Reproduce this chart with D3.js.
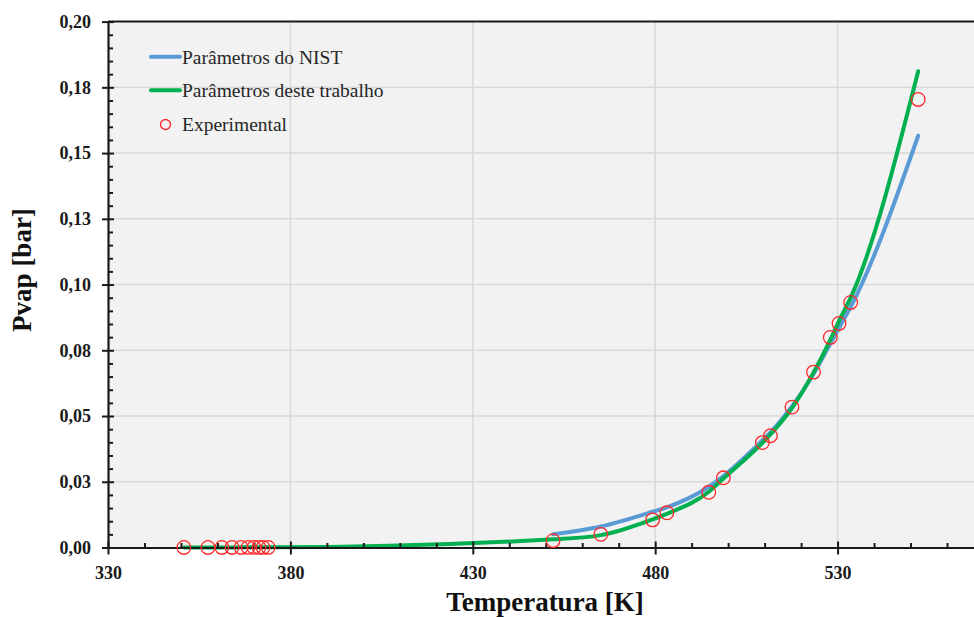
<!DOCTYPE html>
<html>
<head>
<meta charset="utf-8">
<script src="https://cdn.jsdelivr.net/npm/d3@7"></script>
<style>
  html, body { margin: 0; padding: 0; background: #ffffff; }
  svg { display: block; }
</style>
</head>
<body>
<svg id="chart" width="974" height="617"></svg>
<script>
// ---------- DATA ----------
const seriesNames = ["Parâmetros do NIST", "Parâmetros deste trabalho", "Experimental"];

// Experimental points (T [K], Pvap [bar])
const expT = [350.8, 357.4, 361.2, 364.0, 366.5, 368.4, 370.0, 371.4, 372.5, 373.9,
              452.0, 465.1, 479.3, 483.2, 494.7, 498.7, 509.4, 511.6, 517.5, 523.4, 528.0, 530.4, 533.6, 552.1];
const expP = [0.00001, 0.00001, 0.00002, 0.00002, 0.00002, 0.00003, 0.00003, 0.00003, 0.00003, 0.00004,
              0.0026, 0.0050, 0.0105, 0.0132, 0.0210, 0.0265, 0.0399, 0.0425, 0.0534, 0.0667, 0.0799, 0.0852, 0.0932, 0.1704];

// Model: parameters of this work (green)
const greenT = [350.8, 357.4, 361.2, 364.0, 366.5, 368.4, 370.0, 371.4, 372.5, 373.9,
                452.0, 465.1, 479.3, 483.2, 494.7, 498.7, 509.4, 511.6, 517.5, 523.4, 528.0, 530.4, 533.6, 552.1];
const greenP = [0.00002, 0.00003, 0.00004, 0.00004, 0.00005, 0.00005, 0.00006, 0.00006, 0.00007, 0.00007,
                0.0031, 0.0047, 0.0107, 0.0128, 0.0212, 0.0262, 0.0398, 0.0430, 0.0530, 0.0665, 0.0790, 0.0862, 0.0950, 0.1811];

// Model: NIST parameters (blue)
const blueT = [452.0, 465.1, 479.3, 483.2, 494.7, 498.7, 509.4, 511.6, 517.5, 523.4, 528.0, 530.4, 533.6, 552.1];
const blueP = [0.0050, 0.0080, 0.0136, 0.0153, 0.0231, 0.0272, 0.0408, 0.0438, 0.0536, 0.0660, 0.0775, 0.0835, 0.0915, 0.1566];

// Axes
const xDomain = [330, 567.4];
const yDomain = [0, 0.2];
const xTicks = [330, 380, 430, 480, 530];
const xTickLabels = ["330", "380", "430", "480", "530"];
const xMinorTicks = [340, 350, 360, 370, 390, 400, 410, 420, 440, 450, 460, 470, 490, 500, 510, 520, 540, 550, 560];
const yTicks = [0, 0.025, 0.05, 0.075, 0.1, 0.125, 0.15, 0.175, 0.2];
const yTickLabels = ["0,00", "0,03", "0,05", "0,08", "0,10", "0,13", "0,15", "0,18", "0,20"];
const yMinorTicks = [0.005, 0.01, 0.015, 0.02, 0.03, 0.035, 0.04, 0.045, 0.055, 0.06, 0.065, 0.07,
                     0.08, 0.085, 0.09, 0.095, 0.105, 0.11, 0.115, 0.12, 0.13, 0.135, 0.14, 0.145,
                     0.155, 0.16, 0.165, 0.17, 0.18, 0.185, 0.19, 0.195];
const xTitle = "Temperatura [K]";
const yTitle = "Pvap [bar]";

// ---------- LAYOUT ----------
const pLeft = 108, pRight = 974, pTop = 21.6, pBottom = 547.5;
const svg = d3.select("#chart");
const font = "'Liberation Serif', 'Times New Roman', serif";

const x = d3.scaleLinear().domain(xDomain).range([pLeft, pRight]);
const y = d3.scaleLinear().domain(yDomain).range([pBottom, pTop]);

// plot background
svg.append("rect").attr("x", pLeft).attr("y", pTop)
  .attr("width", pRight - pLeft).attr("height", pBottom - pTop)
  .attr("fill", "#f2f2f2");

// gridlines
svg.append("g").selectAll("line").data(xTicks.slice(1)).join("line")
  .attr("x1", d => x(d)).attr("x2", d => x(d))
  .attr("y1", pTop).attr("y2", pBottom)
  .attr("stroke", "#d9d9d9").attr("stroke-width", 1.5);
svg.append("g").selectAll("line").data(yTicks.slice(1, -1)).join("line")
  .attr("x1", pLeft).attr("x2", pRight)
  .attr("y1", d => y(d)).attr("y2", d => y(d))
  .attr("stroke", "#d9d9d9").attr("stroke-width", 1.5);

// top border
svg.append("line").attr("x1", pLeft).attr("x2", pRight).attr("y1", pTop).attr("y2", pTop)
  .attr("stroke", "#1a1a1a").attr("stroke-width", 2);

// curves
const line = d3.line().x(d => x(d[0])).y(d => y(d[1])).curve(d3.curveMonotoneX);
const blueData = blueT.map((t, i) => [t, blueP[i]]);
const greenData = greenT.map((t, i) => [t, greenP[i]]);
const expData = expT.map((t, i) => [t, expP[i]]);

svg.append("path").datum(blueData).attr("d", line)
  .attr("fill", "none").attr("stroke", "#5b9bd5").attr("stroke-width", 4)
  .attr("stroke-linecap", "round");
svg.append("path").datum(greenData).attr("d", line)
  .attr("fill", "none").attr("stroke", "#00b050").attr("stroke-width", 4)
  .attr("stroke-linecap", "round");

// axes
const yAxis = d3.axisLeft(y).tickValues(yTicks).tickFormat((d, i) => yTickLabels[i])
  .tickSizeInner(6).tickSizeOuter(0).tickPadding(11);
const gy = svg.append("g").attr("transform", `translate(${pLeft},0)`).call(yAxis);
gy.selectAll(".tick line").attr("x1", 6).attr("stroke", "#1a1a1a").attr("stroke-width", 2);
gy.select(".domain").attr("stroke", "#1a1a1a").attr("stroke-width", 2.2);
gy.selectAll("text").attr("font-family", font).attr("font-weight", "bold")
  .attr("font-size", 18).attr("fill", "#1a1a1a");

const yMinor = d3.axisLeft(y).tickValues(yMinorTicks).tickFormat("").tickSizeInner(-5).tickSizeOuter(0);
const gym = svg.append("g").attr("transform", `translate(${pLeft},0)`).call(yMinor);
gym.select(".domain").remove();
gym.selectAll(".tick line").attr("stroke", "#1a1a1a").attr("stroke-width", 2);

const xAxis = d3.axisBottom(x).tickValues(xTicks).tickFormat((d, i) => xTickLabels[i])
  .tickSizeInner(7).tickSizeOuter(0).tickPadding(12);
const gx = svg.append("g").attr("transform", `translate(0,${pBottom})`).call(xAxis);
gx.selectAll(".tick line").attr("y1", -6).attr("stroke", "#1a1a1a").attr("stroke-width", 2);
gx.select(".domain").attr("stroke", "#1a1a1a").attr("stroke-width", 2.2);
gx.selectAll("text").attr("font-family", font).attr("font-weight", "bold")
  .attr("font-size", 18).attr("fill", "#1a1a1a");

const xMinor = d3.axisBottom(x).tickValues(xMinorTicks).tickFormat("").tickSizeInner(-4.5).tickSizeOuter(0);
const gxm = svg.append("g").attr("transform", `translate(0,${pBottom})`).call(xMinor);
gxm.select(".domain").remove();
gxm.selectAll(".tick line").attr("stroke", "#1a1a1a").attr("stroke-width", 2);

// experimental circles (on top)
svg.append("g").selectAll("circle").data(expData).join("circle")
  .attr("cx", d => x(d[0])).attr("cy", d => y(d[1])).attr("r", 6.8)
  .attr("fill", "none").attr("stroke", "#ff2a2a").attr("stroke-width", 1.3);

// axis titles
svg.append("text").attr("x", 545).attr("y", 611)
  .attr("text-anchor", "middle").attr("font-family", font).attr("font-weight", "bold")
  .attr("font-size", 27).attr("fill", "#111").text(xTitle);
svg.append("text").attr("transform", "translate(31,270) rotate(-90)")
  .attr("text-anchor", "middle").attr("font-family", font).attr("font-weight", "bold")
  .attr("font-size", 27).attr("fill", "#111").text(yTitle);

// legend
const legY = [56.7, 90.3, 124.5];
const lg = svg.append("g");
lg.append("line").attr("x1", 151).attr("x2", 180).attr("y1", legY[0]).attr("y2", legY[0])
  .attr("stroke", "#5b9bd5").attr("stroke-width", 4).attr("stroke-linecap", "round");
lg.append("line").attr("x1", 151).attr("x2", 180).attr("y1", legY[1]).attr("y2", legY[1])
  .attr("stroke", "#00b050").attr("stroke-width", 4).attr("stroke-linecap", "round");
lg.append("circle").attr("cx", 165.5).attr("cy", legY[2]).attr("r", 5)
  .attr("fill", "none").attr("stroke", "#ff2a2a").attr("stroke-width", 1.3);
lg.selectAll("text").data(seriesNames).join("text")
  .attr("x", 182).attr("y", (d, i) => legY[i]).attr("dy", "0.35em")
  .attr("font-family", font).attr("font-size", 19.5).attr("fill", "#262626")
  .text(d => d);
</script>
</body>
</html>
